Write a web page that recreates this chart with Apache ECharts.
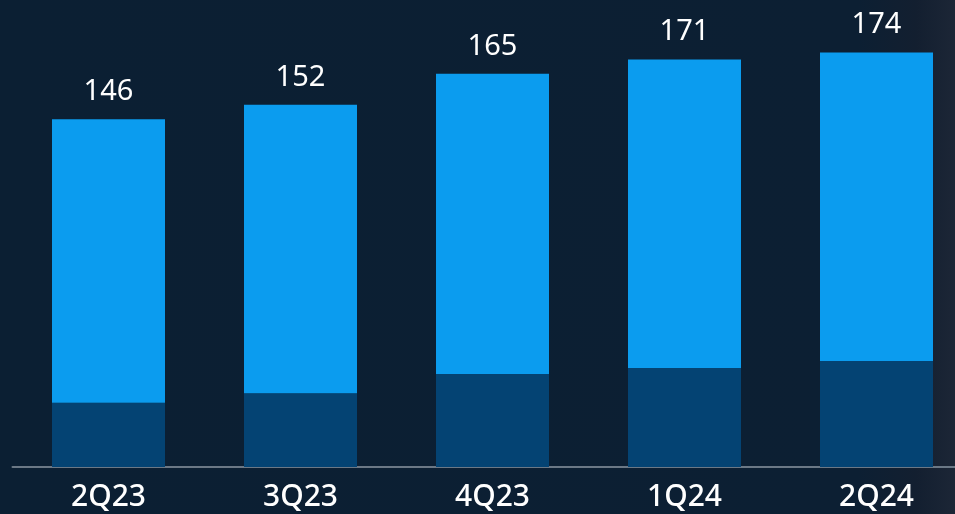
<!DOCTYPE html>
<html>
<head>
<meta charset="utf-8">
<script src="https://cdn.jsdelivr.net/npm/echarts@6/dist/echarts.min.js"></script>
<style>
html,body{margin:0;padding:0;background:#0b1f33;overflow:hidden;width:955px;height:514px;}
#c{width:975px;height:514px;}
</style>
</head>
<body>
<div id="c"></div>
<script>
const categories = ['2Q23','3Q23','4Q23','1Q24','2Q24'];
const totals = [146, 152, 165, 171, 174];
const baseValues = [27, 31, 39, 41.5, 44.5];
const upperValues = totals.map((t, i) => t - baseValues[i]);

const chart = echarts.init(document.getElementById('c'));
chart.setOption({
  animation: false,
  backgroundColor: {
    type: 'linear', x: 0, y: 0, x2: 1, y2: 0,
    colorStops: [
      {offset: 0, color: '#0b1f33'},
      {offset: 0.88, color: '#0c1f33'},
      {offset: 0.94, color: '#131f30'},
      {offset: 0.979, color: '#1c2636'},
      {offset: 1, color: '#1c2636'}
    ]
  },
  grid: {left: 12.5, right: 2.5, top: 0, bottom: 47, containLabel: false},
  xAxis: {
    type: 'category',
    data: categories,
    axisLine: {show: true, lineStyle: {color: '#6b7886', width: 2}},
    axisTick: {show: false},
    axisLabel: {color: '#ffffff', fontSize: 30, fontFamily: 'Noto Sans', fontWeight: 500, margin: 15}
  },
  yAxis: {
    type: 'value', min: 0, max: 196,
    show: false, splitLine: {show: false}
  },
  series: [
    {
      type: 'bar', stack: 's', data: baseValues, barWidth: 113,
      itemStyle: {color: '#044373'}
    },
    {
      type: 'bar', stack: 's', data: upperValues, barWidth: 113,
      itemStyle: {color: '#0b9cef'},
      label: {
        show: true, position: 'top', distance: 13,
        color: '#ffffff', fontSize: 29, fontFamily: 'Noto Sans',
        formatter: p => String(totals[p.dataIndex])
      }
    }
  ]
});
</script>
</body>
</html>
